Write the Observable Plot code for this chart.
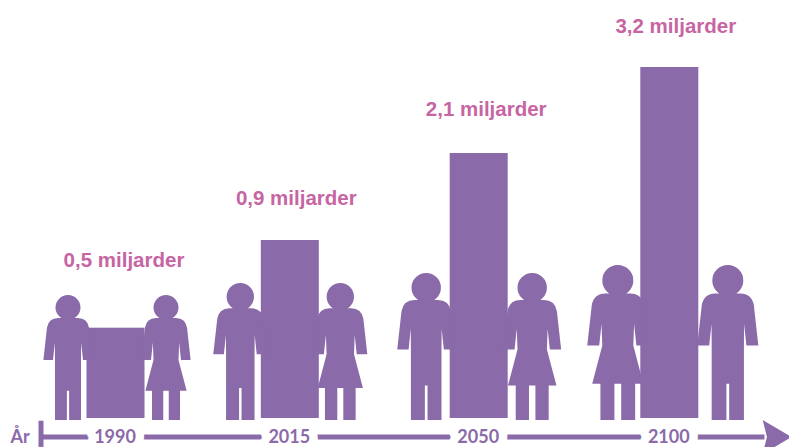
<!DOCTYPE html>
<html>
<head>
<meta charset="utf-8">
<script src="https://cdn.jsdelivr.net/npm/d3@7"></script>
<script src="https://cdn.jsdelivr.net/npm/@observablehq/plot@0.6"></script>
<style>html,body{margin:0;padding:0;background:#fff}svg{display:block}</style>
</head>
<body>
<div id="chart"></div>
<script>
const years = [1990, 2015, 2050, 2100];
const billions = [0.5, 0.9, 2.1, 3.2];
const labels = ["0,5 miljarder", "0,9 miljarder", "2,1 miljarder", "3,2 miljarder"];
const axisTitle = "År";

const purple = "#8a6aa8", pink = "#c765a3";
const rows = years.map((year, i) => ({year, value: billions[i], label: labels[i]}));

// Pictogram shapes, drawn in a box of height h, feet at the anchor
function figure(ctx, h, kind) {
  const X = v => v * h, Y = v => v * h;
  ctx.moveTo(X(0.1), Y(-0.9));
  ctx.arc(0, Y(-0.9), X(0.1), 0, 2 * Math.PI);
  ctx.closePath();
  const right = kind === "man"
    ? [[0.105,-0.62],[0.104,-0.48],[0.104,0],[0.009,0],[0.009,-0.234]]
    : [[0.105,-0.62],[0.1,-0.48],[0.165,-0.234],[0.112,-0.234],[0.112,0],[0.022,0],[0.022,-0.234]];
  const arm = [[0.197,-0.48],[0.12,-0.48]];
  ctx.moveTo(X(-0.08), Y(-0.816));
  ctx.lineTo(X(0.08), Y(-0.816));
  ctx.quadraticCurveTo(X(0.155), Y(-0.815), X(0.168), Y(-0.74));
  for (const [x, y] of arm) ctx.lineTo(X(x), Y(y));
  for (const [x, y] of right) ctx.lineTo(X(x), Y(y));
  for (const [x, y] of [...right].reverse()) ctx.lineTo(X(-x), Y(y));
  for (const [x, y] of [...arm].reverse()) ctx.lineTo(X(-x), Y(y));
  ctx.lineTo(X(-0.168), Y(-0.74));
  ctx.quadraticCurveTo(X(-0.155), Y(-0.815), X(-0.08), Y(-0.816));
  ctx.closePath();
}
const symbolOf = kind => ({draw(ctx, size) { figure(ctx, Math.sqrt(size / Math.PI), kind); }});
const man = symbolOf("man"), woman = symbolOf("woman");
const arrowHead = {draw(ctx, size) {
  const s = Math.sqrt(size / Math.PI);
  ctx.moveTo(s, 0); ctx.lineTo(-0.7 * s, -s); ctx.lineTo(-0.45 * s, 0); ctx.lineTo(-0.7 * s, s);
  ctx.closePath();
}};

// [year, left figure, left offset, right figure, right offset, figure height]
const people = [
  [1990, man, -48, woman, 50, 125],
  [2015, man, -50, woman, 50, 137],
  [2050, man, -53, woman, 53, 147],
  [2100, woman, -52, man, 58, 155]
];
const labelLift = [-68, -42, -44, -41];
const labelShift = [8, 6, 7, 6];

const marks = [
  Plot.rect(rows, {x1: "year", x2: "year", y1: 0, y2: "value", insetLeft: -29, insetRight: -29, fill: purple}),
  Plot.ruleY([0], {x1: 1979.6, x2: 2125, dy: 18.5, stroke: purple, strokeWidth: 5}),
  Plot.ruleX([1979.4], {y1: -0.015, y2: -0.16, stroke: purple, strokeWidth: 5}),
  Plot.dot([2127], {x: d => d, y: 0, dy: 18.5, symbol: arrowHead, r: 17, dx: 2, fill: purple, stroke: "none"}),
  Plot.text(rows, {x: "year", y: 0, dy: 18.5, dx: -1, text: d => String(d.year), fill: purple, stroke: "white", strokeWidth: 17, fontSize: 18, fontWeight: 700}),
  Plot.text([axisTitle], {x: 1979.4, y: 0, dx: -21, dy: 18.5, text: d => d, fill: purple, fontSize: 18, fontWeight: 700})
];
for (const [year, a, ax, b, bx, r] of people) {
  marks.push(Plot.dot([year], {x: d => d, y: 0, dy: 1.5, dx: ax, r, symbol: a, fill: purple, stroke: "none"}));
  marks.push(Plot.dot([year], {x: d => d, y: 0, dy: 1.5, dx: bx, r, symbol: b, fill: purple, stroke: "none"}));
}
rows.forEach((d, i) => marks.push(Plot.text([d], {
  x: "year", y: "value", text: "label", dx: labelShift[i], dy: labelLift[i],
  fill: pink, fontSize: 20.5, fontWeight: 700, fontFamily: "Liberation Sans"
})));

const chart = Plot.plot({
  width: 789, height: 447,
  margin: 0,
  style: {fontFamily: "Lato", background: "white"},
  x: {type: "linear", domain: [1979.4, 1990, 2015, 2050, 2100, 2200], range: [40.5, 115.5, 289.8, 478.7, 669.3, 1050], axis: null},
  y: {type: "linear", domain: [0, 0.5, 0.9, 2.1, 3.2], range: [418, 327.7, 240, 153, 67], axis: null},
  marks
});
document.getElementById("chart").append(chart);
</script>
</body>
</html>
